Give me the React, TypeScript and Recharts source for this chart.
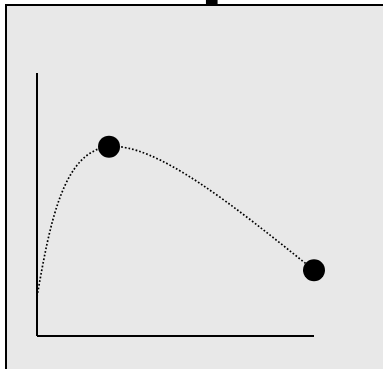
import React from 'react';
import { LineChart, Line, XAxis, YAxis } from 'recharts';

// values
const xValues = [0, 26, 100];
const yValues = [15, 72, 25];
const showDot = [false, true, true];

const data = xValues.map((x, i) => ({ x, y: yValues[i], dot: showDot[i] }));

const Marker = (props: any) => {
  const { cx, cy, payload, index } = props;
  if (!payload || !payload.dot) return <g key={`dot-${index}`} />;
  return <circle key={`dot-${index}`} cx={cx} cy={cy} r={11} fill="#000" />;
};

export default function App() {
  return (
    <div style={{ position: 'relative', width: 383, height: 369, overflow: 'hidden' }}>
      <style>{`body { margin: 0; }`}</style>
      {/* panel + clipped title */}
      <svg width={383} height={369} style={{ position: 'absolute', left: 0, top: 0 }}>
        <rect x={6} y={5} width={420} height={420} fill="#e8e8e8" stroke="#000" strokeWidth={2} />
        <text
          x={200}
          y={-14}
          fontSize={85}
          fontWeight="bold"
          fontFamily="Liberation Sans, Arial, sans-serif"
          fill="#000"
        >
          p
        </text>
      </svg>
      <div style={{ position: 'absolute', left: 0, top: 0 }}>
        <LineChart
          width={383}
          height={369}
          data={data}
          margin={{ top: 73, right: 69, bottom: 32, left: 36 }}
        >
          <XAxis
            dataKey="x"
            type="number"
            domain={[0, 100]}
            height={1}
            tick={false}
            tickLine={false}
            axisLine={{ stroke: '#000', strokeWidth: 2 }}
          />
          <YAxis
            type="number"
            domain={[0, 100]}
            width={1}
            tick={false}
            tickLine={false}
            axisLine={{ stroke: '#000', strokeWidth: 2 }}
          />
          <Line
            dataKey="y"
            type="natural"
            stroke="#000"
            strokeWidth={1.7}
            strokeDasharray="1.7 2"
            dot={Marker}
            activeDot={false}
            isAnimationActive={false}
          />
        </LineChart>
      </div>
    </div>
  );
}
